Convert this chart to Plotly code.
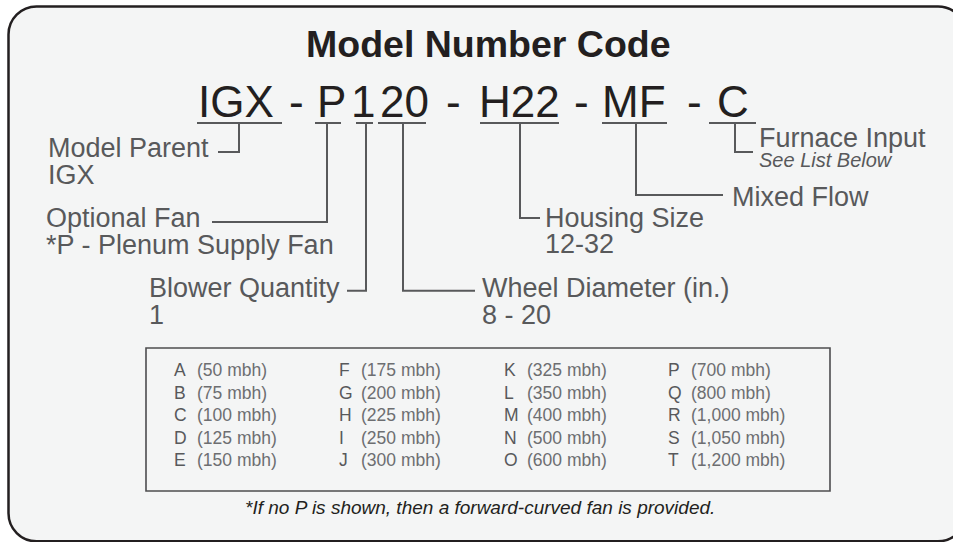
import plotly.graph_objects as go

# ---------------- data ----------------
title_text = "Model Number Code"
code_segments = ["IGX", "P", "1", "20", "H22", "MF", "C"]
separators = ["-", "-", "-", "-"]
labels = ["Model Parent", "Optional Fan", "Blower Quantity", "Wheel Diameter (in.)",
          "Housing Size", "Mixed Flow", "Furnace Input"]
sublabels = ["IGX", "*P - Plenum Supply Fan", "1", "8 - 20", "12-32", "", "See List Below"]
furnace_codes = ["A", "B", "C", "D", "E", "F", "G", "H", "I", "J",
                 "K", "L", "M", "N", "O", "P", "Q", "R", "S", "T"]
furnace_mbh = [50, 75, 100, 125, 150, 175, 200, 225, 250, 300,
               325, 350, 400, 500, 600, 700, 800, 1000, 1050, 1200]
footnote = "*If no P is shown, then a forward-curved fan is provided."

# ---------------- layout / positions (pixel space) ----------------
W, H = 953, 542
FONT = "Liberation Sans, Arial, Helvetica, sans-serif"
DARK = "#231f20"
GRAY = "#58595b"
LINEC = "#58595b"
BG = "#f4f5f5"

seg_center_x = [236, 331, 362.5, 404.5, 519, 634, 732.5]
sep_center_x = [296, 453, 581, 694]
underline_x = [(197, 282), (315, 341), (356, 373), (378, 426), (480, 559), (602, 667), (709, 756)]
UNDER_Y = 123
CODE_BASE = 117
CODE_SIZE = 44

# connector: (x of vertical, y of elbow, x end of horizontal)
connectors = [(239, 152, 218), (327, 222, 212), (366, 290.7, 347), (403, 290.7, 475),
              (520, 218, 540), (636, 195, 723), (735, 152, 753)]
# label position: (x, baseline main, baseline sub)
LABEL_SIZE = 27
SUBNOTE_SIZE = 20
label_pos = [(46, 157, 184), (44, 227, 254), (147, 297.3, 324), (480, 297.3, 324),
             (543, 227, 253.3), (730, 206.5, None), (757, 147.5, 166.8)]

table_letter_x = [172, 337, 502, 666]
table_value_x = [195, 359, 525, 689]
table_row_base = [376, 398.7, 421, 443.7, 466]
TABLE_SIZE = 17.5


def mid(baseline, size):
    return baseline - 0.3465 * size


def rounded_rect(x0, y0, x1, y1, r):
    k = 0.5523 * r
    return (f"M {x0 + r},{y0} L {x1 - r},{y0} "
            f"C {x1 - r + k},{y0} {x1},{y0 + r - k} {x1},{y0 + r} "
            f"L {x1},{y1 - r} C {x1},{y1 - r + k} {x1 - r + k},{y1} {x1 - r},{y1} "
            f"L {x0 + r},{y1} C {x0 + r - k},{y1} {x0},{y1 - r + k} {x0},{y1 - r} "
            f"L {x0},{y0 + r} C {x0},{y0 + r - k} {x0 + r - k},{y0} {x0 + r},{y0} Z")


fig = go.Figure()
shapes = []
annotations = []

# outer rounded panel
shapes.append(dict(type="path", xref="x", yref="y",
                   path=rounded_rect(8.5, 6.5, 966, 541.3, 28),
                   fillcolor=BG, line=dict(color=DARK, width=2.5), layer="below"))
# inner furnace table box
shapes.append(dict(type="rect", xref="x", yref="y", x0=146, y0=348, x1=830, y1=491,
                   fillcolor="rgba(0,0,0,0)", line=dict(color="#4d4d4f", width=1.6)))


def ann(x, y, text, size, color, xanchor="left", bold=False, italic=False):
    annotations.append(dict(x=x, y=y, xref="x", yref="y", text=text, showarrow=False,
                            xanchor=xanchor, yanchor="middle",
                            font=dict(family=FONT, size=size, color=color,
                                      weight="bold" if bold else "normal",
                                      style="italic" if italic else "normal")))


# title
ann(488, mid(56.7, 37.5), title_text, 37.5, DARK, "center", bold=True)

# code segments + underlines
for seg, cx, (ux0, ux1) in zip(code_segments, seg_center_x, underline_x):
    ann(cx, mid(CODE_BASE, CODE_SIZE), seg, CODE_SIZE, DARK, "center")
    shapes.append(dict(type="line", xref="x", yref="y", x0=ux0, x1=ux1, y0=UNDER_Y, y1=UNDER_Y,
                       line=dict(color=LINEC, width=2)))
for sep, cx in zip(separators, sep_center_x):
    ann(cx, mid(CODE_BASE, CODE_SIZE), sep, CODE_SIZE, DARK, "center")

# connectors
for (vx, ey, hx) in connectors:
    shapes.append(dict(type="path", xref="x", yref="y",
                       path=f"M {vx},{UNDER_Y} L {vx},{ey} L {hx},{ey}",
                       line=dict(color=LINEC, width=2)))

# labels
for i, (lab, sub) in enumerate(zip(labels, sublabels)):
    lx, b1, b2 = label_pos[i]
    ann(lx, mid(b1, LABEL_SIZE), lab, LABEL_SIZE, GRAY)
    if sub:
        if lab == "Furnace Input":
            ann(lx, mid(b2, SUBNOTE_SIZE), sub, SUBNOTE_SIZE, GRAY, italic=True)
        else:
            ann(lx, mid(b2, LABEL_SIZE), sub, LABEL_SIZE, GRAY)

# furnace table
for i, (code, mbh) in enumerate(zip(furnace_codes, furnace_mbh)):
    col, row = divmod(i, 5)
    yb = mid(table_row_base[row], TABLE_SIZE)
    ann(table_letter_x[col], yb, code, TABLE_SIZE, GRAY)
    ann(table_value_x[col], yb, f"({mbh:,} mbh)", TABLE_SIZE, "#6d6e71")

# footnote
ann(480, mid(514, 19), footnote, 19, DARK, "center", italic=True)

fig.update_layout(
    width=W, height=H, margin=dict(l=0, r=0, t=0, b=0),
    paper_bgcolor="white", plot_bgcolor="white",
    xaxis=dict(range=[0, W], visible=False, fixedrange=True),
    yaxis=dict(range=[H, 0], visible=False, fixedrange=True),
    shapes=shapes, annotations=annotations, showlegend=False,
)
fig.write_html("out.html", config={"displayModeBar": False},
               post_script="document.body.style.margin='0px';document.body.style.overflow='hidden';")
